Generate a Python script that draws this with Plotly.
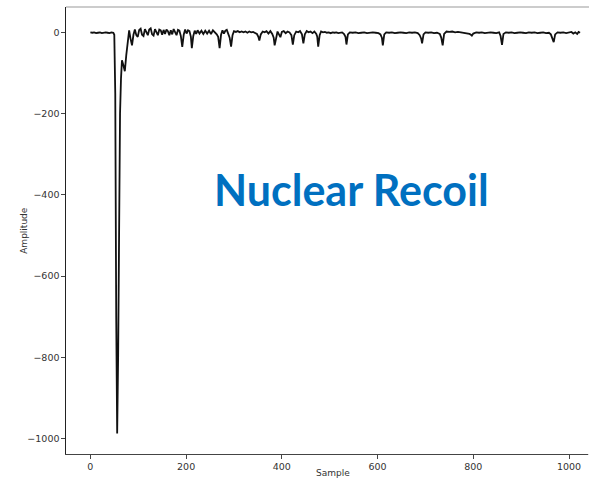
import plotly.graph_objects as go

# Waveform vertices of the recorded pulse: sample index and amplitude
samples = [
    0, 4, 8, 12, 16, 20, 24, 28, 32, 36, 40, 44, 48,
    50, 52, 54, 56, 58, 60, 62, 64, 66, 69, 72, 75, 78, 81, 84, 87, 90,
    93, 96, 99, 102, 105, 108, 111, 114, 117, 120, 123, 126, 129, 132,
    135, 138, 141, 144, 147, 150, 153, 156, 159, 162, 165, 168, 171,
    174, 177, 180, 183, 186, 189, 192, 195, 198, 201, 204, 207, 210,
    212, 215, 218, 221, 224, 228, 232, 236, 240, 244, 248, 252, 256,
    260, 264, 267, 270, 273, 276, 279, 282, 285, 288, 291, 294, 297,
    300, 304, 308, 312, 316, 320, 324, 328, 332, 336, 340, 344, 348,
    351, 353, 356, 360, 364, 368, 372, 376, 380, 383, 385, 388, 391,
    394, 397, 400, 404, 408, 412, 416, 420, 423, 426, 430, 434, 438,
    442, 445, 448, 452, 456, 460, 464, 468, 472, 474, 476, 479, 482,
    486, 490, 494, 498, 502, 506, 510, 514, 518, 522, 526, 530, 533,
    535, 538, 542, 548, 554, 560, 566, 572, 578, 584, 590, 596, 602,
    606, 609, 611, 614, 618, 624, 630, 636, 642, 648, 654, 660, 666,
    672, 678, 684, 688, 691, 693, 696, 700, 706, 712, 718, 724, 730,
    733, 736, 739, 744, 750, 756, 762, 768, 774, 780, 786, 792, 795,
    797, 800, 806, 812, 818, 824, 830, 836, 842, 848, 854, 857, 860,
    863, 868, 874, 880, 886, 892, 898, 904, 910, 916, 922, 928, 934,
    940, 946, 952, 958, 962, 965, 968, 971, 976, 982, 988, 994, 1000,
    1005, 1009, 1013, 1017, 1020, 1023,
]
amplitude = [
    1, 0, 1, -1, 0, 1, -1, 0, 1, 0, -1, 1, 0,
    -5, -150, -700, -988, -800, -400, -200, -113, -68, -80, -95, -55, -15, 6, -15, -31, -5,
    8, -6, -10, 7, 10, -5, -8, 9, 3, -6, 8, 11, -4, -7,
    9, 2, -6, 8, 6, -5, 7, -3, 8, 4, -6, 6, -4,
    9, 2, -6, 7, 5, -8, -35, -5, 8, -2, 6, 4, -10,
    -38, -8, 5, -3, 6, -2, 5, -3, 5, -2, 5, -3, 6,
    2, -4, -10, -38, -5, 6, -2, 5, 7, -4, -12, -34, -6,
    4, 2, 4, 1, 3, 1, 3, 0, 3, 1, 2, 0, -3,
    -10, -19, -4, 3, 1, 4, -2, 4, -3, -12, -31, -8, 3,
    -4, -11, 2, 4, -1, 3, 1, -6, -29, -6, 3, 1, 4,
    -4, -26, -4, 4, 1, 3, -1, 3, -3, -10, -34, -6, 3,
    1, 2, 0, 1, -1, 1, 0, 1, -1, 0, 1, -3, -10,
    -29, -4, 1, 0, 1, -1, 0, 1, -1, 0, 1, 0, -1,
    -4, -12, -31, -4, 1, 0, 1, -1, 0, 1, 0, -1, 1,
    0, 1, -1, -6, -14, -26, -4, 1, 0, 1, -1, 0, -3,
    -12, -31, -3, 3, 2, 3, 1, 2, 1, 0, -1, -3, -5,
    -7, -2, 1, 0, 1, -1, 0, 1, 0, -1, 1, -8, -30,
    -3, 1, 0, 1, -1, 0, 1, 0, -1, 1, 0, 1, -1,
    0, 1, -1, 0, -4, -12, -23, -4, 1, 0, 1, -1, 0,
    2, -2, 1, -3, 2, 0,
]

x_ticks = [0, 200, 400, 600, 800, 1000]
y_ticks = [0, -200, -400, -600, -800, -1000]

fig = go.Figure()
fig.add_trace(go.Scatter(
    x=samples, y=amplitude, mode="lines",
    line=dict(color="#111111", width=1.8),
    hoverinfo="skip", showlegend=False,
))

tick_font = dict(family="DejaVu Sans", size=9.5, color="#333333")

fig.update_layout(
    width=590, height=478,
    margin=dict(l=65.5, r=1, t=6.5, b=24),
    paper_bgcolor="white", plot_bgcolor="white",
    xaxis=dict(
        range=[-50.9, 1041.7], tickvals=x_ticks,
        showgrid=False, zeroline=False,
        showline=True, linecolor="#444444", linewidth=1.2,
        ticks="outside", ticklen=3.5, tickcolor="#444444", tickwidth=1,
        tickfont=tick_font,
    ),
    yaxis=dict(
        range=[-1038.7, 63.5], tickvals=y_ticks,
        showgrid=False, zeroline=False,
        showline=True, linecolor="#222222", linewidth=1.2,
        ticks="outside", ticklen=3.5, tickcolor="#444444", tickwidth=1,
        tickfont=tick_font,
    ),
    shapes=[
        # top frame edge
        dict(type="line", xref="paper", yref="paper",
             x0=0, x1=1, y0=1, y1=1,
             line=dict(color="#999999", width=1.2)),
        # plain strip along the open right side of the frame
        dict(type="rect", xref="paper", yref="paper", layer="above",
             x0=0.9985, x1=1.01, y0=-0.01, y1=0.998,
             fillcolor="white", line=dict(width=0)),
    ],
    annotations=[
        dict(text="Sample", xref="paper", yref="paper",
             x=(333 - 65.5) / 523.5, y=-(473 - 454) / 447.5,
             xanchor="center", yanchor="middle", showarrow=False,
             font=dict(family="DejaVu Sans", size=9, color="#333333")),
        dict(text="Amplitude", xref="paper", yref="paper",
             x=-(65.5 - 24) / 523.5, y=(454 - 230) / 447.5,
             xanchor="center", yanchor="middle", textangle=-90, showarrow=False,
             font=dict(family="DejaVu Sans", size=9, color="#333333")),
        dict(text="<b>Nuclear Recoil</b>", xref="paper", yref="paper",
             x=(351 - 65.5) / 523.5, y=(454 - 189) / 447.5,
             xanchor="center", yanchor="middle", showarrow=False,
             font=dict(family="Lato", size=43, color="#0070C0")),
    ],
)

fig.write_html("out.html", config={"displayModeBar": False})
